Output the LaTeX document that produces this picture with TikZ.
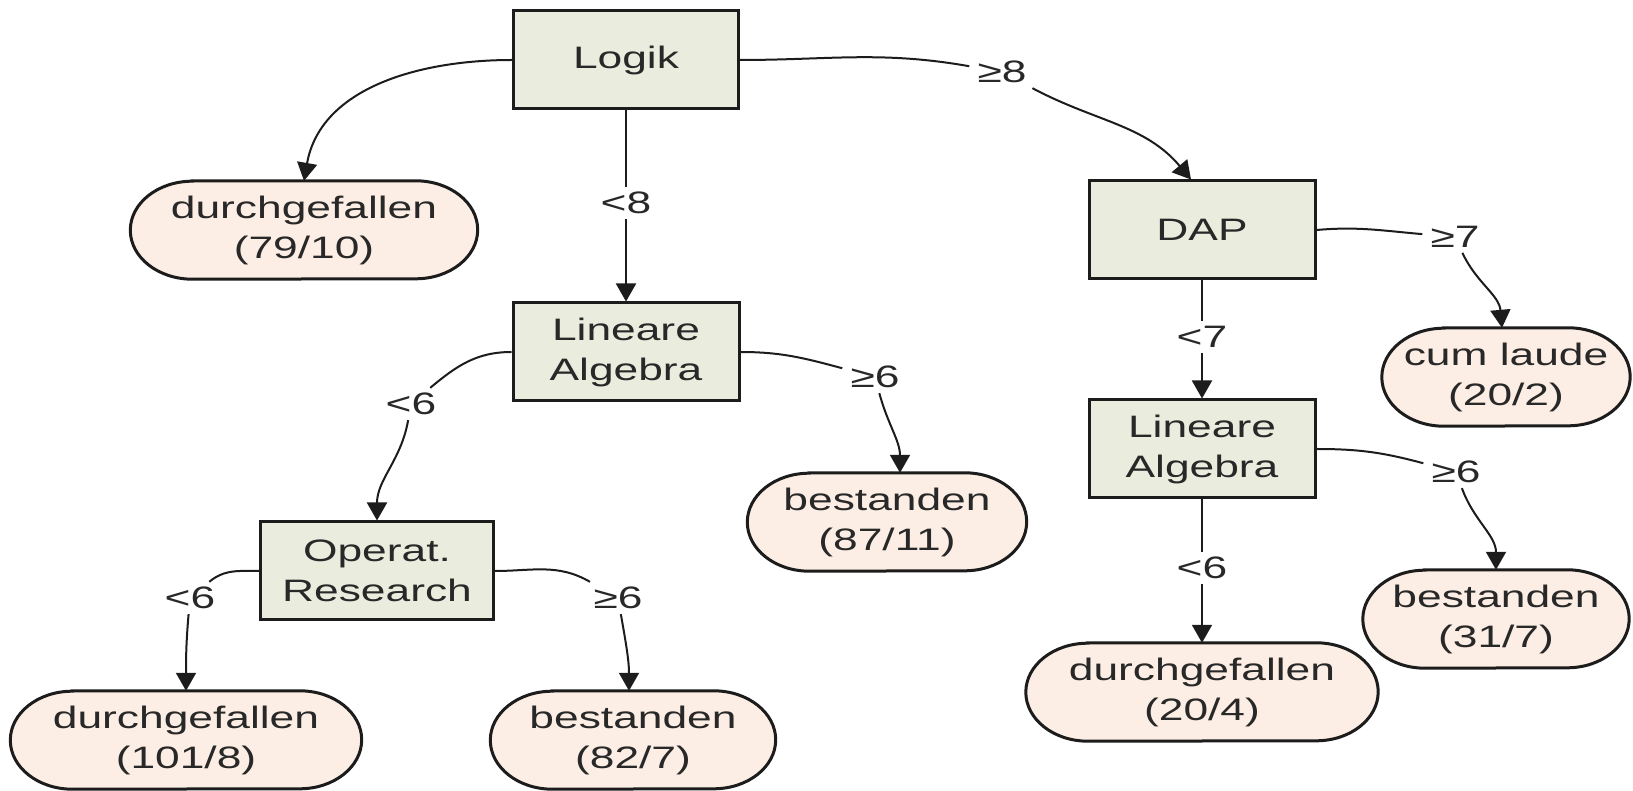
\documentclass[tikz,border=0pt]{standalone}
\usepackage{fontspec}
\setmainfont{Liberation Sans}[FakeStretch=1.43]
\usetikzlibrary{arrows.meta,backgrounds}
\definecolor{boxfill}{RGB}{234,237,222}
\definecolor{leaffill}{RGB}{252,238,228}
\definecolor{ink}{RGB}{28,28,28}
\definecolor{txt}{RGB}{40,40,40}
% stadium outline (elliptic ends) drawn around a leaf node
\newcommand\leafoutline[1]{%
  \path[leafshape] ([xshift=62pt]#1.north west) -- ([xshift=-62pt]#1.north east)
    arc[start angle=90, end angle=-90, x radius=62pt, y radius=49pt]
    -- ([xshift=62pt]#1.south west)
    arc[start angle=270, end angle=90, x radius=62pt, y radius=49pt] -- cycle;}
\begin{document}
\begin{tikzpicture}[x=1pt, y=1pt,
  every node/.style={font=\fontsize{31}{40}\selectfont, text=txt},
  testbox/.style={draw=ink, line width=3pt, fill=boxfill, align=center,
    inner sep=0pt, minimum width=226pt, minimum height=98pt},
  leaf/.style={align=center, inner sep=0pt, minimum height=98pt},
  cond/.style={inner xsep=8pt, inner ysep=5pt},
  edge/.style={draw=ink, line width=2pt},
  arr/.style={edge, -{Triangle[length=18pt, width=20pt]}},
  leafshape/.style={draw=ink, line width=3pt, fill=leaffill}]
\useasboundingbox (0,0) rectangle (1633,790);

% decision nodes
\node[testbox, minimum width=225pt] (logik) at (626,730) {Logik};
\node[testbox] (lin1) at (626,438) {Lineare\\Algebra};
\node[testbox] (dap) at (1202,560) {DAP};
\node[testbox] (lin2) at (1202,341) {Lineare\\Algebra};
\node[testbox, minimum width=233pt] (or) at (377,219) {Operat.\\Research};

% leaves
\node[leaf, minimum width=347pt] (dgf1) at (304,560) {durchgefallen\\(79/10)};
\node[leaf, minimum width=351pt] (dgf2) at (186,50) {durchgefallen\\(101/8)};
\node[leaf, minimum width=285pt] (b82) at (633,50) {bestanden\\(82/7)};
\node[leaf, minimum width=279pt] (b87) at (887,268) {bestanden\\(87/11)};
\node[leaf, minimum width=352pt] (dgf3) at (1202,98) {durchgefallen\\(20/4)};
\node[leaf, minimum width=266pt] (b31) at (1496,171) {bestanden\\(31/7)};
\node[leaf, minimum width=248pt] (cum) at (1506,413) {cum laude\\(20/2)};

\begin{scope}[on background layer]
  \foreach \n in {dgf1,dgf2,dgf3,b82,b87,b31,cum} {\leafoutline{\n}}
\end{scope}

% branch conditions
\node[cond] (l8) at (626,587) {<8};
\node[cond] (g8) at (1002,718) {≥8};
\node[cond] (l6a) at (411,386) {<6};
\node[cond] (g6a) at (875,413) {≥6};
\node[cond] (l6b) at (190,192) {<6};
\node[cond] (g6b) at (618,192) {≥6};
\node[cond] (g7) at (1455,553) {≥7};
\node[cond] (l7) at (1202,453) {<7};
\node[cond] (l6c) at (1202,222) {<6};
\node[cond] (g6c) at (1456,318) {≥6};

% branches
\draw[arr] (logik.west) to[out=180, in=80] (dgf1.north);
\draw[edge] (logik.south) -- (l8);
\draw[arr] (l8) -- (lin1.north);
\draw[edge] (logik.east) to[out=0, in=170] (g8);
\draw[arr] (g8) to[out=-28, in=130] ([xshift=-11pt]dap.north);

\draw[edge] (lin1.west) to[out=180, in=40] (l6a);
\draw[arr] (l6a) to[out=-100, in=90] (or.north);
\draw[edge] (lin1.east) to[out=0, in=165] (g6a);
\draw[arr] (g6a) to[out=-75, in=90] ([xshift=13pt]b87.north);

\draw[edge] (or.west) to[out=180, in=40] (l6b);
\draw[arr] (l6b) to[out=-95, in=90] (dgf2.north);
\draw[edge] (or.east) to[out=0, in=150] (g6b);
\draw[arr] (g6b) to[out=-80, in=90] ([xshift=-4pt]b82.north);

\draw[edge] (dap.east) to[out=5, in=175] (g7);
\draw[arr] (g7) to[out=-65, in=95] ([xshift=-4pt]cum.north);
\draw[edge] (dap.south) -- (l7);
\draw[arr] (l7) -- (lin2.north);

\draw[edge] (lin2.east) to[out=0, in=165] (g6c);
\draw[arr] (g6c) to[out=-70, in=90] (b31.north);
\draw[edge] (lin2.south) -- (l6c);
\draw[arr] (l6c) -- (dgf3.north);
\end{tikzpicture}
\end{document}
